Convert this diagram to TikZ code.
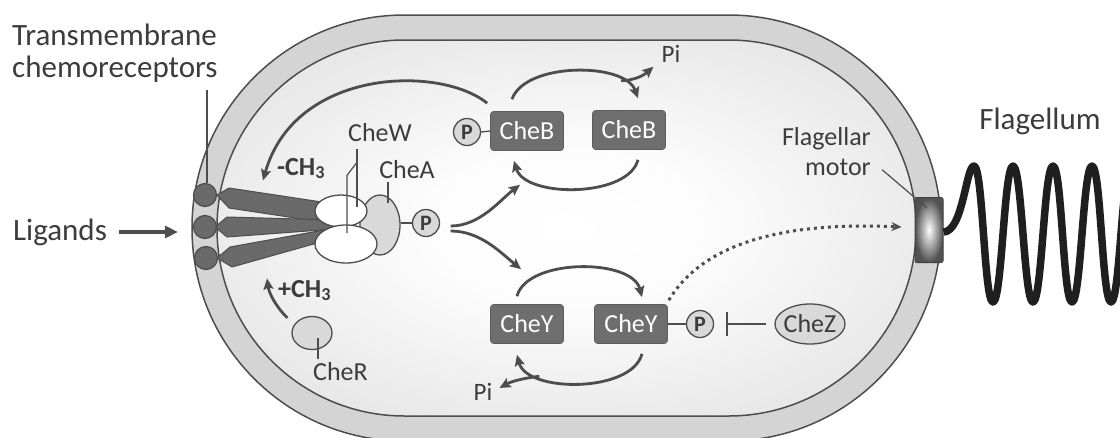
\documentclass[tikz,border=0pt]{standalone}
\usepackage{fontspec}
\setmainfont{Carlito}
\usetikzlibrary{arrows.meta,shapes.geometric,calc}
\definecolor{ink}{HTML}{3C3C3C}
\definecolor{edge}{HTML}{4D4D4D}
\definecolor{band}{HTML}{D4D4D4}
\definecolor{boxfill}{HTML}{6E6E6E}
\definecolor{protein}{HTML}{D9D9D9}
\definecolor{recept}{HTML}{6A6A6A}
% soft cytoplasm: bright middle, greyer towards the membrane
\pgfdeclareradialshading{cytoplasm}{\pgfpoint{0bp}{0bp}}{%
  color(0bp)=(white); color(10bp)=(white!99!black);
  color(30bp)=(white!90!black); color(50bp)=(white!83!black)}
\begin{document}
\begin{tikzpicture}[x=1pt,y=-1pt,
  lbl/.style={text=ink, inner sep=0pt, font=\fontsize{26}{30}\selectfont},
  bigl/.style={text=ink, inner sep=0pt, font=\fontsize{31}{32}\selectfont},
  smalll/.style={text=ink, inner sep=0pt, font=\fontsize{25}{28}\selectfont},
  methyl/.style={text=ink, inner sep=0pt, font=\bfseries\fontsize{26}{28}\selectfont},
  protbox/.style={rectangle, rounded corners=3pt, fill=boxfill, draw=boxfill!85!black,
    line width=0.6pt, minimum width=73pt, minimum height=39pt, inner sep=0pt,
    text=white, font=\fontsize{26}{30}\selectfont},
  phos/.style={circle, draw=edge, line width=1.3pt, fill=protein, minimum size=27pt,
    inner sep=0pt, text=ink, font=\bfseries\fontsize{22}{22}\selectfont},
  prot/.style={ellipse, draw=edge, line width=1.3pt, fill=protein, inner sep=0pt},
  whiteoval/.style={ellipse, draw=edge, line width=1.3pt, fill=white, inner sep=0pt},
  recbar/.style={fill=recept, draw=edge, line width=1pt, line join=round},
  rechead/.style={circle, fill=recept, draw=edge, line width=1.2pt, minimum size=23pt, inner sep=0pt},
  flow/.style={draw=edge, line width=2.8pt, -{Stealth[length=11pt,width=10pt,inset=2pt]}},
  leader/.style={draw=edge, line width=1.2pt},
  bond/.style={draw=edge, line width=1.3pt},
]
\useasboundingbox (0,0) rectangle (1120,437);
\fill[white] (0,0) rectangle (1120,437);

% cell envelope: membrane band and cytoplasm
\filldraw[fill=band, draw=edge, line width=1.5pt, rounded corners=212.5pt] (192,15) rectangle (941,441);
\shade[shading=cytoplasm, rounded corners=187.5pt] (217,40) rectangle (916,416);
\draw[edge, line width=1.5pt, rounded corners=187.5pt] (217,40) rectangle (916,416);

% chemoreceptor bodies
\filldraw[recbar] (217,195) -- (229,188) -- (335,204) -- (335,224) -- (229,208) -- cycle;
\filldraw[recbar] (215,227) -- (227,217) -- (335,220) -- (335,229) -- (227,237) -- cycle;
\filldraw[recbar] (217,258) -- (230,247) -- (335,228) -- (335,238) -- (232,267) -- cycle;
\node[rechead] (r1) at (205,195) {};
\node[rechead] (r2) at (205,227) {};
\node[rechead] (r3) at (206,258) {};

% CheA and CheW
\node[prot, minimum width=40pt, minimum height=60pt] (chea) at (380,225) {};
\node[whiteoval, minimum width=52pt, minimum height=32pt] (w1) at (341,211) {};
\node[whiteoval, minimum width=62pt, minimum height=38pt] (w2) at (346,244) {};

\node[lbl] (chewl) at (380,133) {CheW};
\node[lbl] (cheal) at (407,170) {CheA};
\draw[leader] ($(chewl.south)+(-23,7)$) -- ($(w1.center)+(16,-4)$);
\draw[leader] ($(chewl.south)+(-23,20)$) -- ++(-10,13) -- ($(w2.center)+(1,-11)$);
\draw[leader] ($(cheal.south)+(-19,3)$) -- ($(chea.center)+(8,-22)$);

\node[phos] (pa) at (426,223) {P};
\draw[bond] (chea.east |- pa.west) -- (pa.west);

% labels outside the cell
\node[bigl, align=left, anchor=north west] (tm) at (12,24) {Transmembrane\\chemoreceptors};
\draw[leader] ($(r1.north |- tm.south)+(2,7)$) -- ($(r1.north)+(2,0)$);
\node[bigl, anchor=west] (lig) at (13,232) {Ligands};
\draw[draw=edge, line width=3.5pt, -{Triangle[length=13pt,width=12pt]}, shorten <=12pt, shorten >=15pt]
  (lig.east) -- (lig.east -| r2.west);

% CheB cycle
\node[protbox] (b1) at (527,131) {CheB};
\node[protbox] (b2) at (629,130) {CheB};
\node[phos] (pb) at (467,132) {P};
\draw[bond] (pb.east) -- (b1.west);
\node[smalll] (pit) at (671,54) {Pi};
\draw[flow] ($(b1.north)+(-15,-12)$) .. controls (525,62) and (625,62) .. ($(b2.north)+(9,-12)$)
  coordinate[pos=0.8] (bpi);
\draw[flow] (bpi) .. controls (636,80) and (644,75) .. ($(pit.south west)+(-8,4)$);
\draw[flow] ($(b2.south)+(9,10)$) .. controls (628,198) and (525,198) .. ($(b1.south)+(-13,10)$);

% demethylation by CheB-P
\node[methyl, anchor=base west] (mch) at (277,175) {-CH\textsubscript{3}};
\draw[flow] ($(b1.north west)+(-3,-8)$) .. controls (440,65) and (295,68) .. ($(mch.west)+(-14,12)$);

% methylation by CheR
\node[methyl, anchor=base west] (pch) at (278,297) {+CH\textsubscript{3}};
\node[prot, minimum width=40pt, minimum height=33pt] (cr) at (312,333) {};
\node[lbl, anchor=base west] (crl) at (313,380) {CheR};
\draw[leader] ($(cr.center)+(6,5)$) -- ($(crl.north west)+(5,-3)$);
\draw[flow] ($(cr.north west)+(-10,-3)$) .. controls (276,307) and (269,293) .. ($(pch.west)+(-11,-12)$);

% CheY cycle
\node[protbox] (y1) at (527,324) {CheY};
\node[protbox] (y2) at (631,324) {CheY};
\node[phos] (py) at (700,324) {P};
\draw[bond] (y2.east) -- (py.west);
\node[smalll] (pib) at (483,392) {Pi};
\draw[flow] ($(y1.north)+(-10,-8)$) .. controls (527,258) and (632,258) .. ($(y2.north)+(11,-7)$);
\draw[flow] ($(y2.south)+(11,10)$) .. controls (632,393) and (527,393) .. ($(y1.south)+(-10,11)$)
  coordinate[pos=0.75] (ypi);
\draw[flow] (ypi) .. controls (525,378) and (512,381) .. ($(pib.east)+(7,-4)$);

% phosphorylation of CheB and CheY by CheA-P
\draw[flow] ($(pa.east)+(10.5,3)$) .. controls (480,226) and (500,200) .. ($(b1.south)+(-7,34)$);
\draw[flow] ($(pa.east)+(10.5,8)$) .. controls (480,231) and (500,252) .. ($(y1.north)+(-6,-35)$);

% CheZ dephosphorylates CheY-P
\node[prot, minimum width=70pt, minimum height=40pt] (cz) at (810,324) {};
\node[lbl] (czt) at (cz.center) {CheZ};
\draw[draw=edge, line width=2.6pt, -{Bar[width=24pt]}, shorten <=8pt, shorten >=11.5pt]
  (cz.west) -- (cz.west -| py.east);

% flagellar motor and flagellum
\node[draw=black!75, line width=1pt, rounded corners=2pt, minimum width=28pt, minimum height=65pt,
  inner sep=0pt, inner color=white, outer color=black!68] (mot) at (929,230) {};
\draw[line width=7.5pt, black!88, line join=round]
  ($(mot.east)+(0,2)$) .. controls (963,232) and (966,166) .. (974,166)
  .. controls (983,166) and (984,302) .. (993,302)
  .. controls (1002,302) and (1004,166) .. (1013,166)
  .. controls (1022,166) and (1024,302) .. (1033,302)
  .. controls (1042,302) and (1044,166) .. (1053,166)
  .. controls (1062,166) and (1063,302) .. (1072,302)
  .. controls (1081,302) and (1083,166) .. (1092,166)
  .. controls (1101,166) and (1102,302) .. (1111,302)
  .. controls (1120,302) and (1122,166) .. (1131,166);
\node[text=ink, inner sep=0pt, font=\fontsize{26}{30}\selectfont, align=right, anchor=north east]
  (fm) at (871,127) {Flagellar\\motor};
\draw[leader] ($(fm.south east)+(11,-6)$) -- ($(mot.center)+(-2,-22)$);
\node[bigl, anchor=base] (fl) at (1040,129) {Flagellum};

% CheY-P signal to the motor
\draw[draw=edge, line width=3pt, dash pattern=on 3pt off 4pt, -{Stealth[length=10pt,width=9pt]}]
  ($(y2.north east)+(1,-4)$) .. controls (705,240) and (790,222) .. ($(mot.west)+(-13,-3)$);
\end{tikzpicture}
\end{document}
